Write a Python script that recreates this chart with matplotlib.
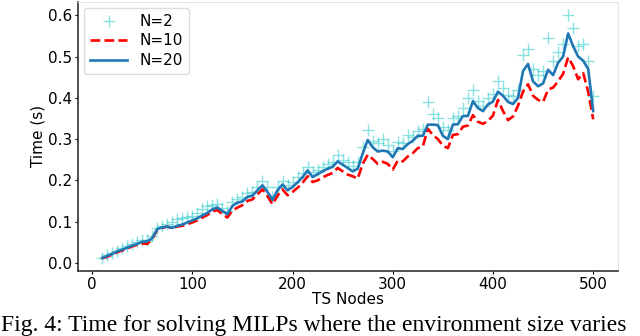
import numpy as np
import matplotlib
matplotlib.use('Agg')
import matplotlib.pyplot as plt

# ---- Data (every 5 TS nodes) ----
nodes = list(range(10, 501, 5))

time_n2 = [0.013, 0.018, 0.024, 0.030, 0.035, 0.040, 0.045, 0.050, 0.056, 0.055,
           0.066, 0.084, 0.090, 0.094, 0.098, 0.106, 0.110, 0.112, 0.114, 0.120,
           0.130, 0.137, 0.140, 0.142, 0.132, 0.125, 0.148, 0.155, 0.160, 0.170,
           0.172, 0.185, 0.198, 0.184, 0.160, 0.183, 0.198, 0.188, 0.196, 0.208,
           0.218, 0.232, 0.220, 0.226, 0.232, 0.240, 0.245, 0.262, 0.250, 0.244,
           0.234, 0.245, 0.280, 0.322, 0.295, 0.290, 0.300, 0.285, 0.272, 0.292,
           0.290, 0.310, 0.305, 0.320, 0.325, 0.390, 0.362, 0.350, 0.330, 0.322,
           0.352, 0.355, 0.375, 0.400, 0.420, 0.392, 0.380, 0.400, 0.410, 0.440,
           0.425, 0.408, 0.405, 0.420, 0.505, 0.518, 0.470, 0.455, 0.465, 0.545,
           0.490, 0.510, 0.530, 0.600, 0.570, 0.525, 0.530, 0.490, 0.405]

time_n10 = [0.011, 0.015, 0.020, 0.026, 0.030, 0.035, 0.040, 0.044, 0.047, 0.046,
            0.058, 0.080, 0.085, 0.088, 0.084, 0.088, 0.090, 0.094, 0.098, 0.103,
            0.110, 0.116, 0.125, 0.128, 0.118, 0.110, 0.127, 0.134, 0.140, 0.150,
            0.154, 0.166, 0.178, 0.162, 0.142, 0.163, 0.178, 0.164, 0.172, 0.182,
            0.194, 0.210, 0.196, 0.200, 0.207, 0.213, 0.218, 0.230, 0.222, 0.214,
            0.210, 0.204, 0.240, 0.262, 0.252, 0.240, 0.245, 0.240, 0.226, 0.248,
            0.246, 0.258, 0.266, 0.278, 0.282, 0.325, 0.310, 0.300, 0.284, 0.278,
            0.310, 0.312, 0.330, 0.333, 0.358, 0.342, 0.337, 0.344, 0.357, 0.395,
            0.368, 0.346, 0.355, 0.381, 0.415, 0.433, 0.405, 0.395, 0.390, 0.420,
            0.425, 0.440, 0.458, 0.498, 0.477, 0.445, 0.460, 0.415, 0.348]

time_n20 = [0.012, 0.017, 0.022, 0.028, 0.032, 0.037, 0.042, 0.046, 0.051, 0.052,
            0.060, 0.082, 0.086, 0.088, 0.085, 0.090, 0.093, 0.098, 0.103, 0.108,
            0.115, 0.121, 0.130, 0.134, 0.126, 0.118, 0.138, 0.146, 0.149, 0.160,
            0.163, 0.176, 0.188, 0.172, 0.153, 0.176, 0.190, 0.176, 0.184, 0.195,
            0.208, 0.224, 0.208, 0.215, 0.222, 0.228, 0.233, 0.246, 0.238, 0.230,
            0.222, 0.228, 0.265, 0.298, 0.280, 0.270, 0.272, 0.270, 0.256, 0.278,
            0.276, 0.288, 0.296, 0.308, 0.308, 0.335, 0.335, 0.334, 0.308, 0.300,
            0.335, 0.336, 0.356, 0.356, 0.392, 0.375, 0.368, 0.384, 0.391, 0.415,
            0.405, 0.390, 0.385, 0.400, 0.465, 0.482, 0.440, 0.428, 0.435, 0.468,
            0.455, 0.485, 0.500, 0.556, 0.525, 0.500, 0.490, 0.470, 0.368]

caption = 'Fig. 4: Time for solving MILPs where the environment size varies'

# ---- Plotting ----
fig = plt.figure(figsize=(6.4, 3.36), dpi=100)
ax = fig.add_axes([0.122, 0.193, 0.844, 0.802])

ax.plot(nodes, time_n2, '+', color='c', alpha=0.45, markersize=8, label='N=2')
ax.plot(nodes, time_n10, '--', color='red', linewidth=1.9, label='N=10')
ax.plot(nodes, time_n20, '-', color='#1f77b4', linewidth=1.9, label='N=20')

ax.set_xlabel('TS Nodes', fontsize=11, labelpad=0)
ax.set_ylabel('Time (s)', fontsize=11, labelpad=2)
ax.set_xticks([0, 100, 200, 300, 400, 500])
ax.set_yticks([0.0, 0.1, 0.2, 0.3, 0.4, 0.5, 0.6])
ax.tick_params(labelsize=11, length=2, pad=2)
ax.set_xlim(-14, 525)
ax.set_ylim(-0.02, 0.633)

for side in ['top', 'right']:
    ax.spines[side].set_color('#e6e6e6')
for side in ['left', 'bottom']:
    ax.spines[side].set_color('#333333')
    ax.spines[side].set_linewidth(1.2)

ax.legend(loc='upper left', fontsize=11, framealpha=1, edgecolor='#dddddd',
          borderaxespad=0.4, handlelength=2.4, labelspacing=0.3)

fig.text(0.002, 0.016, caption, fontsize=17, family='Liberation Serif',
         ha='left', va='baseline')

plt.savefig('out.png', dpi=100)
